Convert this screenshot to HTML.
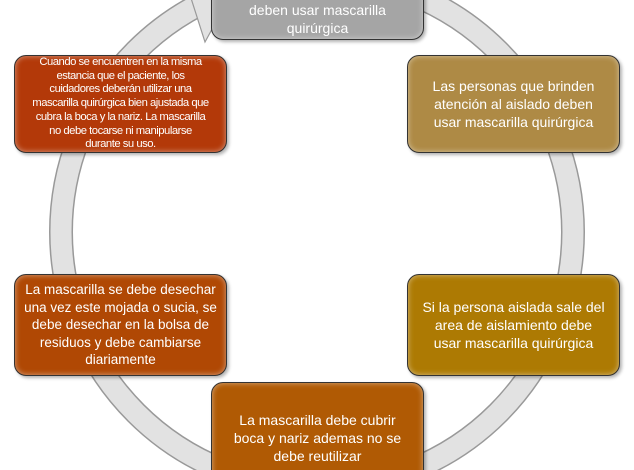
<!DOCTYPE html>
<html><head><meta charset="utf-8"><style>
html,body{margin:0;width:634px;height:470px;overflow:hidden;}
body{background:#fff;position:relative;font-family:"Liberation Sans Narrow","Liberation Sans",sans-serif;}
.b{position:absolute;box-sizing:border-box;border:1.5px solid #333;border-radius:12px;color:#fff;display:flex;align-items:center;justify-content:center;text-align:center;line-height:1.3;box-shadow:inset 0 0 6px rgba(255,255,255,.5),2px 2px 3px rgba(0,0,0,.3);}
svg{position:absolute;left:0;top:0}
</style></head><body>
<svg width="634" height="470">
<circle cx="317" cy="232" r="256" fill="none" stroke="#999" stroke-width="24"/>
<circle cx="317" cy="232" r="256" fill="none" stroke="#e2e2e2" stroke-width="21"/>
<polygon points="190,-5 228,0 205,42" fill="#e2e2e2" stroke="#999" stroke-width="1.2"/>
</svg>
<div class="b" style="left:211px;top:-40px;width:213px;height:80px;background:#a5a5a5;font-size:14px;align-items:flex-end;padding-bottom:2px">Los cuidadores y el aislado<br>deben usar mascarilla<br>quirúrgica</div>
<div class="b" style="left:14px;top:55px;width:213px;height:98px;background:#b33909;font-size:11.3px;letter-spacing:-0.5px;line-height:1.22">Cuando se encuentren en la misma<br>estancia que el paciente, los<br>cuidadores deberán utilizar una<br>mascarilla quirúrgica bien ajustada que<br>cubra la boca y la nariz. La mascarilla<br>no debe tocarse ni manipularse<br>durante su uso.</div>
<div class="b" style="left:407px;top:55px;width:213px;height:98px;background:#ae8a45;font-size:14px">Las personas que brinden<br>atención al aislado deben<br>usar mascarilla quirúrgica</div>
<div class="b" style="left:14px;top:274px;width:213px;height:102px;background:#b04804;font-size:13.5px">La mascarilla se debe desechar<br>una vez este mojada o sucia, se<br>debe desechar en la bolsa de<br>residuos y debe cambiarse<br>diariamente</div>
<div class="b" style="left:407px;top:274px;width:213px;height:102px;background:#ad7a03;font-size:14px">Si la persona aislada sale del<br>area de aislamiento debe<br>usar mascarilla quirúrgica</div>
<div class="b" style="left:211px;top:382px;width:213px;height:110px;background:#b05a04;font-size:14px;align-items:flex-start;padding-top:28px">La mascarilla debe cubrir<br>boca y nariz ademas no se<br>debe reutilizar</div>
</body></html>
